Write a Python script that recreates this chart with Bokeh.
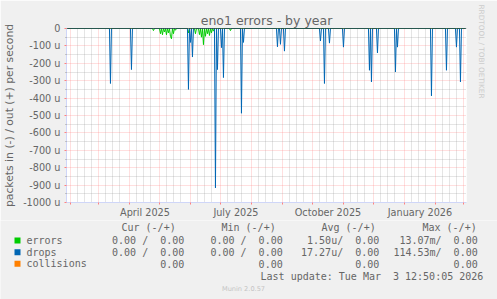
import numpy as np
import pandas as pd
from bokeh.plotting import figure
from bokeh.layouts import column
from bokeh.models import (Range1d, FixedTicker, DatetimeTickFormatter, CustomJSTickFormatter,
                          Span, Title, ColumnDataSource)
from bokeh.embed import file_html
from bokeh.resources import INLINE
from bokeh.core.properties import value

# ---------------- data ----------------
title_text = "eno1 errors - by year"
y_label = "packets in (-) / out (+) per second"
watermark = "RRDTOOL / TOBI OETIKER"
munin_text = "Munin 2.0.57"
last_update = "Last update: Tue Mar \u00a03 12:50:05 2026"

range_start = "2025-01-27 12:50:05"
range_end = "2026-03-03 12:50:05"

# daily "in" rates in micro-packets per second (drawn as negative values)
drop_dates = ["2025-03-12", "2025-04-02", "2025-05-29", "2025-05-31", "2025-06-02",
              "2025-06-25", "2025-06-27", "2025-07-01", "2025-07-03", "2025-07-21",
              "2025-07-23", "2025-08-26", "2025-08-29", "2025-09-02", "2025-10-08",
              "2025-10-12", "2025-10-17", "2025-10-31", "2025-11-26", "2025-11-28",
              "2025-12-04", "2025-12-22", "2025-12-24", "2026-01-27", "2026-02-11",
              "2026-02-21", "2026-02-25"]
drop_vals = [316, 236, 350, 80, 164,
             916, 236, 110, 282, 487,
             80, 105, 91, 130, 72,
             316, 84, 107, 240, 307,
             140, 250, 107, 387, 240,
             107, 307]

error_dates = ["2025-04-24", "2025-05-01", "2025-05-03", "2025-05-05", "2025-05-07",
               "2025-05-09", "2025-05-11", "2025-05-12", "2025-05-14", "2025-05-16",
               "2025-05-29", "2025-06-05", "2025-06-09", "2025-06-11", "2025-06-13",
               "2025-06-15", "2025-06-17", "2025-06-19", "2025-06-21", "2025-06-23",
               "2025-07-10"]
error_vals = [12, 30, 36, 20, 36,
              25, 45, 59, 30, 10,
              25, 30, 35, 50, 93,
              45, 30, 40, 25, 15,
              12]

y_ticks = [0, -100, -200, -300, -400, -500, -600, -700, -800, -900, -1000]
y_minor = [-50, -150, -250, -350, -450, -550, -650, -750, -850, -950]
x_label_dates = ["2025-04-16", "2025-07-16", "2025-10-16", "2026-01-16"]

legend_names = ["errors", "drops", "collisions"]
legend_colors = ["#00CC00", "#0066B3", "#FF8000"]
col_headers = ["Cur (-/+)", "Min (-/+)", "Avg (-/+)", "Max (-/+)"]
cur_vals = ["0.00 /\u00a0 0.00", "0.00 /\u00a0 0.00", "0.00"]
min_vals = ["0.00 /\u00a0 0.00", "0.00 /\u00a0 0.00", "0.00"]
avg_vals = ["1.50u/\u00a0 0.00", "17.27u/\u00a0 0.00", "0.00"]
max_vals = ["13.07m/\u00a0 0.00", "114.53m/\u00a0 0.00", "0.00"]

# ---------------- series ----------------
days = pd.date_range("2025-01-28 12:00", "2026-03-02 12:00", freq="D")
drops = pd.Series(0.0, index=days)
drops[pd.to_datetime(drop_dates) + pd.Timedelta(hours=12)] = drop_vals
errors = pd.Series(0.0, index=days)
errors[pd.to_datetime(error_dates) + pd.Timedelta(hours=12)] = error_vals

src = ColumnDataSource(dict(t=days, drops=-drops.values, errors=-errors.values))

def ms(s):
    return pd.Timestamp(s).value / 1e6

month_starts = [ms(d) for d in pd.date_range("2025-02-01", "2026-03-01", freq="MS")]
minor_days = []
for m in pd.date_range("2025-02-01", "2026-02-01", freq="MS"):
    for dd in (8, 15, 22):
        minor_days.append(ms(m + pd.Timedelta(days=dd - 1)))

FONT = "DejaVu Sans"
MONO = "DejaVu Sans Mono"
TXT = "#666666"
BG = "#F0F0F0"
AXIS = "#CFD6F8"
MGRID = "#FF8080"
GRID = "#999999"

# ---------------- main chart ----------------
p = figure(width=497, height=220, x_axis_type="datetime",
           x_range=Range1d(pd.Timestamp(range_start), pd.Timestamp(range_end)),
           y_range=Range1d(-1000, 0),
           toolbar_location=None, output_backend="svg",
           min_border_left=66, min_border_right=31, min_border_top=28, min_border_bottom=17)
p.background_fill_color = "white"
p.border_fill_color = BG
p.outline_line_color = None

p.title.text = title_text
p.title.align = "center"
p.title.offset = -17.5
p.title.standoff = 1
p.title.text_font = FONT
p.title.text_font_size = "12.5px"
p.title.text_font_style = "normal"
p.title.text_color = TXT

p.add_layout(Title(text=watermark, align="left", standoff=20, offset=-24, text_font=FONT,
                   text_font_size="7.3px", text_font_style="normal",
                   text_color="#CCCCCC"), "right")

# grids
xg = p.xgrid[0]
xg.ticker = FixedTicker(ticks=month_starts, minor_ticks=minor_days)
xg.grid_line_color = MGRID
xg.grid_line_alpha = 0.5
xg.grid_line_dash = "1 1"
xg.minor_grid_line_color = GRID
xg.minor_grid_line_alpha = 0.5
xg.minor_grid_line_dash = "1 1"

yg = p.ygrid[0]
yg.ticker = FixedTicker(ticks=y_ticks, minor_ticks=y_minor)
yg.grid_line_color = MGRID
yg.grid_line_alpha = 0.5
yg.grid_line_dash = "1 1"
yg.minor_grid_line_color = GRID
yg.minor_grid_line_alpha = 0.5
yg.minor_grid_line_dash = "1 1"

# axes
xa = p.xaxis[0]
xa.ticker = FixedTicker(ticks=[ms(d) for d in x_label_dates], minor_ticks=month_starts)
fmt = "%B %Y"
xa.formatter = DatetimeTickFormatter(milliseconds=fmt, seconds=fmt, minsec=fmt, minutes=fmt,
                                     hourmin=fmt, hours=fmt, days=fmt, months=fmt, years=fmt)
xa.major_tick_out = 0
xa.major_tick_in = 0
xa.minor_tick_out = 2
xa.minor_tick_in = 0
xa.minor_tick_line_color = MGRID
xa.axis_line_color = AXIS
xa.major_label_standoff = 2
xa.major_label_text_font = FONT
xa.major_label_text_font_size = "9.7px"
xa.major_label_text_color = TXT

ya = p.yaxis[0]
ya.ticker = FixedTicker(ticks=y_ticks, minor_ticks=y_minor)
ya.formatter = CustomJSTickFormatter(code="return tick == 0 ? '0' : tick.toFixed(0) + ' u';")
ya.major_tick_out = 2
ya.major_tick_in = 0
ya.major_tick_line_color = MGRID
ya.minor_tick_out = 1
ya.minor_tick_in = 0
ya.minor_tick_line_color = GRID
ya.axis_line_color = AXIS
ya.major_label_standoff = 4
ya.major_label_text_font = FONT
ya.major_label_text_font_size = "9.7px"
ya.major_label_text_color = TXT
ya.axis_label = y_label
ya.axis_label_text_font = FONT
ya.axis_label_text_font_size = "10.8px"
ya.axis_label_text_font_style = "normal"
ya.axis_label_text_color = TXT
ya.axis_label_standoff = 4

# data
p.line("t", "errors", source=src, line_color=legend_colors[0], line_width=1)
p.line("t", "drops", source=src, line_color=legend_colors[1], line_width=1)
p.add_layout(Span(location=0, dimension="width", line_color="black", line_width=1))

# ---------------- legend block ----------------
p2 = figure(width=497, height=79, x_range=Range1d(0, 497), y_range=Range1d(299, 220),
            toolbar_location=None, output_backend="svg", min_border=0,
            min_border_left=0, min_border_right=0, min_border_top=0, min_border_bottom=0,
            x_axis_location=None, y_axis_location=None)
p2.grid.visible = False
p2.outline_line_color = None
p2.background_fill_color = BG
p2.border_fill_color = BG
for fig in (p, p2):
    try:
        fig.frame_align = False
    except Exception:
        pass

row_y = [240, 251.7, 263.3]
header_y = 227.3

p2.rect(x=[17] * 3, y=row_y, width=6, height=6, fill_color=legend_colors, line_color=None)
p2.text(x=[26] * 3, y=row_y, text=legend_names, text_font=value(MONO), text_font_size="10px",
        text_color=TXT, text_align="left", text_baseline="middle")
p2.text(x=[121, 221, 321, 422], y=[header_y] * 4, text=col_headers, text_font=value(MONO),
        text_font_size="10px", text_color=TXT, text_align="left", text_baseline="middle")
for xr, vals in zip([183.8, 282.2, 378.8, 477.2], [cur_vals, min_vals, avg_vals, max_vals]):
    p2.text(x=[xr] * 3, y=row_y, text=vals, text_font=value(MONO), text_font_size="10px",
            text_color=TXT, text_align="right", text_baseline="middle")
p2.text(x=[482.8], y=[275.7], text=[last_update], text_font=value(MONO), text_font_size="10px",
        text_color=TXT, text_align="right", text_baseline="middle")
p2.text(x=[243], y=[288.5], text=[munin_text], text_font=value(FONT), text_font_size="6.6px",
        text_color="#C4C4C4", text_align="center", text_baseline="middle")

layout = column(p, p2, spacing=0)
open("out.html", "w").write(file_html(layout, INLINE))
